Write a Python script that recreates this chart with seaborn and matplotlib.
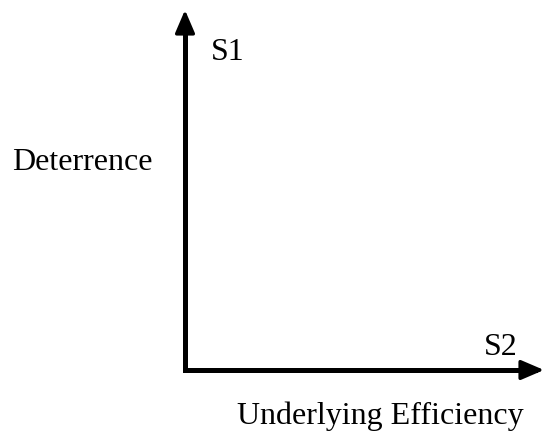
import matplotlib
matplotlib.use("Agg")
import matplotlib.pyplot as plt
import seaborn as sns
import pandas as pd

sns.set_style("white")
plt.rcParams['font.family'] = ['Liberation Serif', 'DejaVu Serif']

# Diagram elements (data space: origin at 0,0; axes extend to 1)
axis_names = ["x_axis", "x_axis", "y_axis", "y_axis"]
axis_x = [0.0, 0.975, 0.0, 0.0]
axis_y = [0.0, 0.0, 0.0, 0.955]
arrow_tips = [(1.0, 0.0), (0.0, 1.0)]

labels = ["S1", "Deterrence", "S2", "Underlying Efficiency"]
label_x = [0.120, -0.2855, 0.880, 0.543]
label_y = [0.861, 0.556, 0.042, -0.150]

df = pd.DataFrame({"axis": axis_names, "x": axis_x, "y": axis_y})

fig = plt.figure(figsize=(5.44, 4.33), dpi=100)
ax = fig.add_axes([185/544, (433-370)/433, 359/544, 360/433])
sns.lineplot(data=df, x="x", y="y", units="axis", estimator=None, sort=False,
             color="black", linewidth=3.6, ax=ax, legend=False)
for line in ax.lines:
    line.set_clip_on(False)
    line.set_solid_capstyle("projecting")

for tip in arrow_tips:
    start = (tip[0] * 0.95, tip[1] * 0.95)
    ax.annotate("", xy=tip, xytext=start,
                arrowprops=dict(arrowstyle="-|>,head_length=1.4,head_width=0.6",
                                color="black", lw=2.5, shrinkA=0, shrinkB=0),
                annotation_clip=False)

for t, x, y in zip(labels, label_x, label_y):
    ax.text(x, y, t, ha="center", va="baseline", fontsize=23, color="black")

ax.set_xlim(0, 1)
ax.set_ylim(0, 1)
ax.axis("off")
fig.savefig("out.png", dpi=100)
